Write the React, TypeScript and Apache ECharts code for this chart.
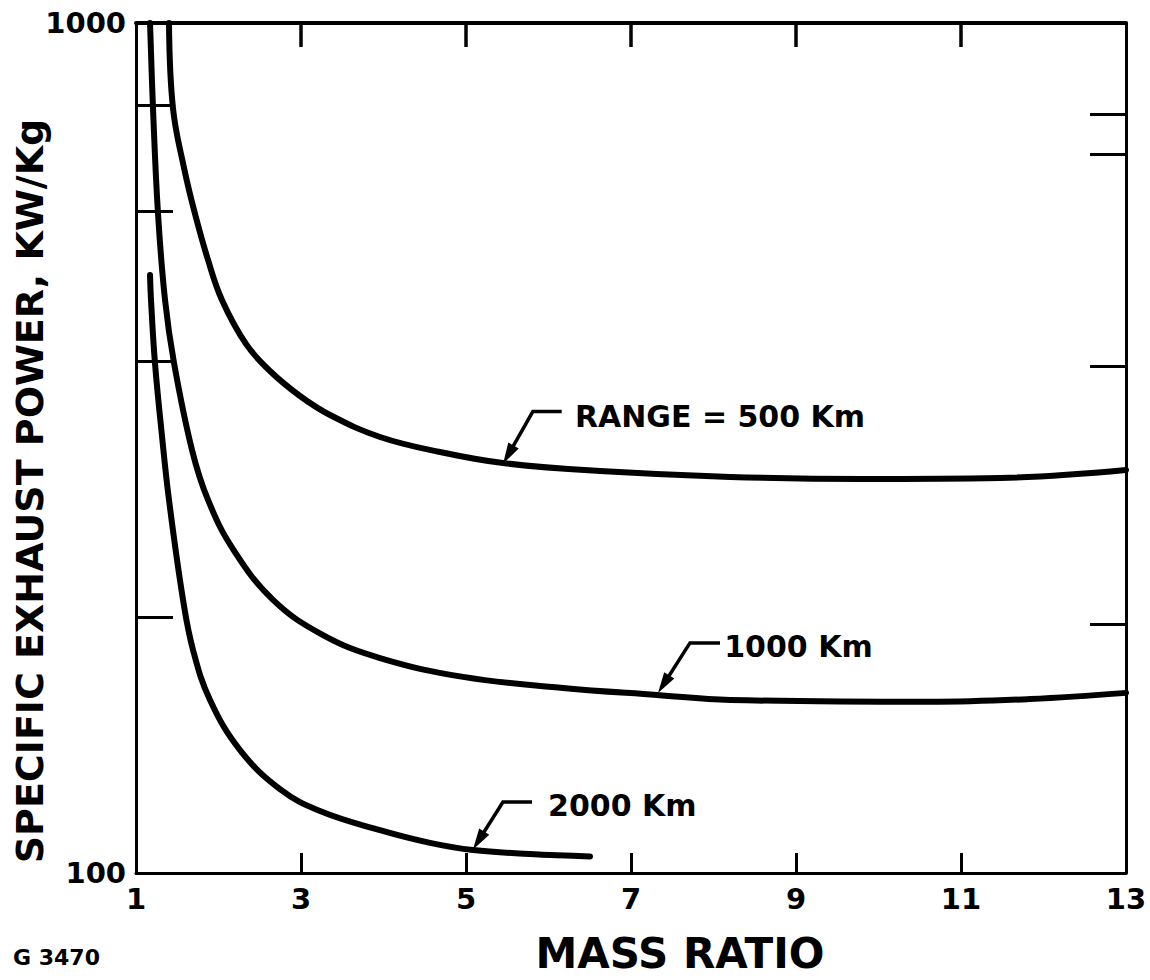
import React, { useEffect, useRef } from "react";
import * as echarts from "echarts";

const FONT = '"DejaVu Sans", "Liberation Sans", sans-serif';

// Axis values
const xMin = 1;
const xMax = 13;
const xInterval = 2;
const yMin = 100;
const yMax = 1000;
const topTickValues = [3, 5, 7, 9, 11];
const leftMinorTicks = [200, 400, 600, 800];
const rightMinorTicks = [196, 395, 700, 780];

// Curves: mass ratio vs specific exhaust power (kW/kg)
const massRatio500 = [1.4, 1.448, 1.582, 1.715, 1.873, 2.042, 2.333, 2.624, 2.988, 3.352, 3.958, 4.685, 5.448, 6.624, 8.2, 9.812, 11.473, 13.0];
const power500 = [1000, 794.3, 675.2, 596.3, 526.3, 472.2, 419.2, 389.6, 364.1, 345.8, 325.8, 312.8, 303.6, 297.1, 292.4, 290.8, 291.6, 297.9];

const massRatio1000 = [1.17, 1.206, 1.267, 1.352, 1.461, 1.679, 1.873, 2.176, 2.661, 3.267, 3.958, 4.964, 6.176, 7.315, 8.2, 10.624, 11.836, 13.0];
const power1000 = [1000, 794.3, 596.3, 472.2, 398.1, 314.5, 274.7, 240.5, 209.6, 190.5, 179.0, 170.1, 165.1, 162.0, 159.8, 159.0, 160.2, 162.9];

const massRatio2000 = [1.17, 1.182, 1.23, 1.315, 1.4, 1.57, 1.691, 1.897, 2.261, 2.745, 3.23, 3.958, 4.564, 5.085, 5.776, 6.503];
const power2000 = [505.2, 472.2, 398.1, 326.7, 274.7, 209.6, 183.0, 159.8, 139.5, 125.5, 118.3, 112.3, 108.5, 106.4, 105.3, 104.6];

const seriesNames = ["RANGE = 500 Km", "1000 Km", "2000 Km"];

// Annotation anchors in data coordinates (tip on curve, elbow, end of leader, label start)
const annotations = [
  { label: "RANGE = 500 Km", tip: [5.45, 303], elbow: [5.81, 349], end: [6.16, 349], text: [6.32, 344] },
  { label: "1000 Km", tip: [7.327, 162.8], elbow: [7.715, 186.5], end: [8.079, 186.5], text: [8.13, 184.5] },
  { label: "2000 Km", tip: [5.085, 106.6], elbow: [5.448, 121.2], end: [5.8, 121.2], text: [5.994, 120.2] },
];

const xTitle = "MASS RATIO";
const yTitle = "SPECIFIC EXHAUST POWER, KW/Kg";
const figureId = "G 3470";

function pairs(xs: number[], ys: number[]) {
  return xs.map((x, i) => [x, ys[i]]);
}

export default function App() {
  const ref = useRef<HTMLDivElement>(null);

  useEffect(() => {
    const chart = echarts.init(ref.current!, null, { renderer: "svg" });
    const black = "#000";
    const lineSeries = (name: string, data: number[][]) => ({
      name,
      type: "line",
      xAxisIndex: 0,
      yAxisIndex: 0,
      data,
      smooth: 0.4,
      showSymbol: false,
      symbol: "none",
      lineStyle: { color: black, width: 6, cap: "round", join: "round" },
      clip: true,
    });

    chart.setOption({
      animation: false,
      backgroundColor: "#fff",
      grid: { left: 136, right: 24, top: 23, bottom: 107, containLabel: false },
      xAxis: [
        {
          type: "value",
          position: "bottom",
          min: xMin,
          max: xMax,
          interval: xInterval,
          splitLine: { show: false },
          axisLine: { show: true, lineStyle: { color: black, width: 3 } },
          axisTick: { show: true, inside: true, length: 20, lineStyle: { color: black, width: 3 } },
          axisLabel: {
            show: true,
            margin: 11,
            color: black,
            fontFamily: FONT,
            fontWeight: "bold",
            fontSize: 29,
            showMinLabel: true,
            showMaxLabel: true,
          },
        },
        {
          type: "value",
          position: "top",
          min: xMin,
          max: xMax,
          splitLine: { show: false },
          axisLine: { show: true, lineStyle: { color: black, width: 4 } },
          axisTick: { show: true, inside: true, length: 24, customValues: topTickValues, lineStyle: { color: black, width: 3.5 } },
          axisLabel: { show: false },
        },
      ],
      yAxis: [
        {
          type: "log",
          logBase: 10,
          position: "left",
          min: yMin,
          max: yMax,
          splitLine: { show: false },
          axisLine: { show: true, lineStyle: { color: black, width: 3 } },
          axisTick: { show: true, inside: true, length: 37, customValues: leftMinorTicks, lineStyle: { color: black, width: 3 } },
          axisLabel: {
            show: true,
            margin: 10,
            color: black,
            fontFamily: FONT,
            fontWeight: "bold",
            fontSize: 29,
            formatter: (v: number) => String(Math.round(v)),
          },
        },
        {
          type: "log",
          logBase: 10,
          position: "right",
          min: yMin,
          max: yMax,
          splitLine: { show: false },
          axisLine: { show: true, lineStyle: { color: black, width: 3 } },
          axisTick: { show: true, inside: true, length: 36, customValues: rightMinorTicks, lineStyle: { color: black, width: 3 } },
          axisLabel: { show: false },
        },
      ],
      series: [
        lineSeries(seriesNames[0], pairs(massRatio500, power500)),
        lineSeries(seriesNames[1], pairs(massRatio1000, power1000)),
        lineSeries(seriesNames[2], pairs(massRatio2000, power2000)),
      ],
    });

    const toPx = (p: number[]) => chart.convertToPixel({ xAxisIndex: 0, yAxisIndex: 0 }, p) as number[];
    const g: any[] = [];
    annotations.forEach((a) => {
      const T = toPx(a.tip);
      const E = toPx(a.elbow);
      const N = toPx(a.end);
      const L = toPx(a.text);
      const dx = T[0] - E[0];
      const dy = T[1] - E[1];
      const len = Math.hypot(dx, dy);
      const ux = dx / len;
      const uy = dy / len;
      const px = -uy;
      const py = ux;
      const AL = 21;
      const AW = 6;
      const base = [T[0] - ux * AL, T[1] - uy * AL];
      g.push({
        type: "polyline",
        shape: { points: [N, E, [T[0] - ux * AL * 0.6, T[1] - uy * AL * 0.6]] },
        style: { stroke: black, lineWidth: 3.5, fill: null, lineJoin: "miter" },
      });
      g.push({
        type: "polygon",
        shape: { points: [T, [base[0] + px * AW, base[1] + py * AW], [base[0] - px * AW, base[1] - py * AW]] },
        style: { fill: black },
      });
      g.push({
        type: "text",
        x: L[0],
        y: L[1],
        style: {
          text: a.label,
          fontFamily: FONT,
          fontWeight: "bold",
          fontSize: 30,
          fill: black,
          align: "left",
          verticalAlign: "middle",
        },
      });
    });
    g.push({
      type: "text",
      x: 680,
      y: 953,
      style: { text: xTitle, fontFamily: FONT, fontWeight: "bold", fontSize: 42, fill: black, align: "center", verticalAlign: "middle" },
    });
    g.push({
      type: "text",
      x: 30,
      y: 491,
      rotation: Math.PI / 2,
      style: { text: yTitle, fontFamily: FONT, fontWeight: "bold", fontSize: 38, fill: black, align: "center", verticalAlign: "middle" },
    });
    g.push({
      type: "text",
      x: 13,
      y: 957,
      style: { text: figureId, fontFamily: FONT, fontWeight: "bold", fontSize: 22, fill: black, align: "left", verticalAlign: "middle" },
    });
    chart.setOption({ graphic: g });

    return () => chart.dispose();
  }, []);

  return (
    <div
      ref={ref}
      style={{ position: "absolute", left: 0, top: 0, width: 1150, height: 980, background: "#fff" }}
    />
  );
}
